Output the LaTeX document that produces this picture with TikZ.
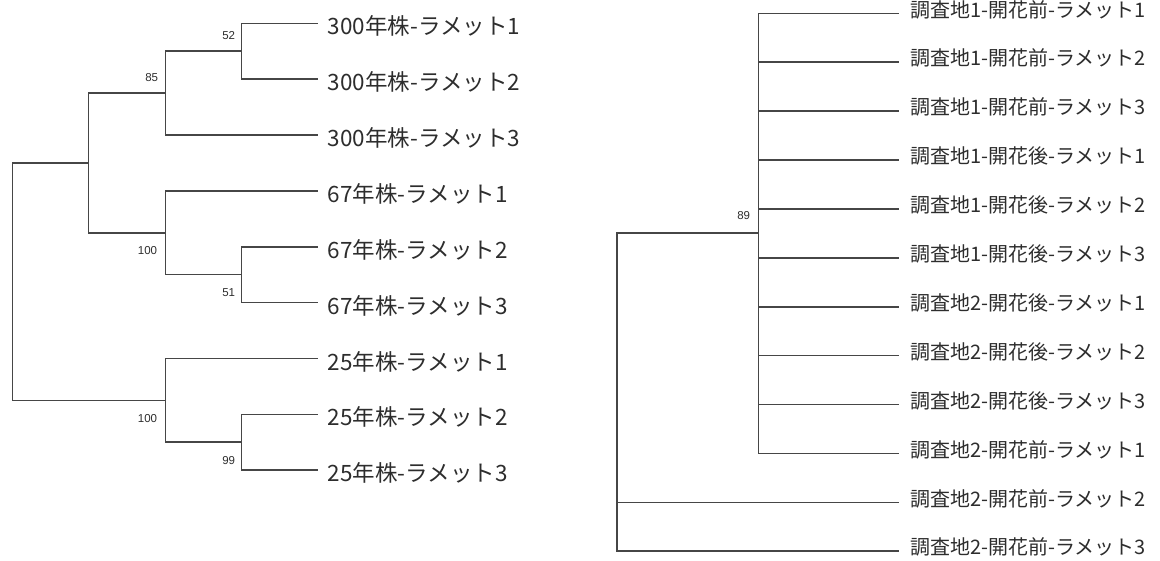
\documentclass[tikz,border=0pt]{standalone}
\usepackage{fontspec}
\usepackage{tikz}
\usetikzlibrary{calc}
\usetikzlibrary{positioning}
\newfontfamily\jpfont{Noto Sans CJK JP}
\newfontfamily\numfont{Liberation Sans}
\definecolor{linegray}{RGB}{70, 70, 70}
\definecolor{inkgray}{RGB}{45, 45, 45}

\tikzset{
  edge/.style={draw=linegray, line width=1.6pt, line cap=rect},
  leafbig/.style={anchor=west, inner sep=0pt, xshift=11pt, yshift=-3pt, text=inkgray,
                  font=\jpfont\fontsize{22.5}{24}\selectfont},
  leafsmall/.style={anchor=west, inner sep=0pt, xshift=12pt, text=inkgray,
                  text height=0.82em, text depth=0.08em,
                  font=\jpfont\fontsize{20}{22}\selectfont},
  boot/.style={anchor=east, inner sep=0pt, text=inkgray, font=\numfont\fontsize{11.5}{12}\selectfont}
}

\begin{document}
\begin{tikzpicture}[x=1pt, y=-1pt]
    \useasboundingbox (0,0) rectangle (1160,560);

    % left tree: leaf tips
    \coordinate (a1) at (316.7,  23.3);
    \coordinate (a2) at (316.7,  79.2);
    \coordinate (a3) at (316.7, 135.0);
    \coordinate (a4) at (316.7, 190.9);
    \coordinate (a5) at (316.7, 246.7);
    \coordinate (a6) at (316.7, 302.6);
    \coordinate (a7) at (316.7, 358.4);
    \coordinate (a8) at (316.7, 414.3);
    \coordinate (a9) at (316.7, 470.1);

    % left tree: inner nodes
    \coordinate (n52)   at (241.3,  51.2);
    \coordinate (n85)   at (165.3,  93.1);
    \coordinate (n51)   at (241.3, 274.6);
    \coordinate (n100a) at (165.3, 232.7);
    \coordinate (nsub)  at ( 88.3, 162.9);
    \coordinate (n99)   at (241.3, 442.2);
    \coordinate (n100b) at (165.3, 400.3);
    \coordinate (nroot) at ( 12.3, 281.6);

    \draw[edge] (n52) |- (a1)  (n52) |- (a2);
    \draw[edge] (n85) |- (n52) (n85) |- (a3);
    \draw[edge] (n51) |- (a5)  (n51) |- (a6);
    \draw[edge] (n100a) |- (a4) (n100a) |- (n51);
    \draw[edge] (nsub) |- (n85) (nsub) |- (n100a);
    \draw[edge] (n99) |- (a8)  (n99) |- (a9);
    \draw[edge] (n100b) |- (a7) (n100b) |- (n99);
    \draw[edge] (nroot) |- (nsub) (nroot) |- (n100b);

    \node[leafbig] (la1) at (a1) {300年株-ラメット1};
    \node[leafbig] (la2) at (a2) {300年株-ラメット2};
    \node[leafbig] (la3) at (a3) {300年株-ラメット3};
    \node[leafbig] (la4) at (a4) {67年株-ラメット1};
    \node[leafbig] (la5) at (a5) {67年株-ラメット2};
    \node[leafbig] (la6) at (a6) {67年株-ラメット3};
    \node[leafbig] (la7) at (a7) {25年株-ラメット1};
    \node[leafbig] (la8) at (a8) {25年株-ラメット2};
    \node[leafbig] (la9) at (a9) {25年株-ラメット3};

    \node[boot] (b52)   at ($(n52)  +(-6,-16)$) {52};
    \node[boot] (b85)   at ($(n85)  +(-7,-16)$) {85};
    \node[boot] (b100a) at ($(n100a)+(-8, 18)$) {100};
    \node[boot] (b51)   at ($(n51)  +(-6, 18)$) {51};
    \node[boot] (b100b) at ($(n100b)+(-8, 18)$) {100};
    \node[boot] (b99)   at ($(n99)  +(-6, 18)$) {99};

    % right tree: leaf tips
    \coordinate (r1)  at (898.0,  13.3);
    \coordinate (r2)  at (898.0,  62.2);
    \coordinate (r3)  at (898.0, 111.1);
    \coordinate (r4)  at (898.0, 160.0);
    \coordinate (r5)  at (898.0, 208.9);
    \coordinate (r6)  at (898.0, 257.8);
    \coordinate (r7)  at (898.0, 306.7);
    \coordinate (r8)  at (898.0, 355.6);
    \coordinate (r9)  at (898.0, 404.5);
    \coordinate (r10) at (898.0, 453.4);
    \coordinate (r11) at (898.0, 502.3);
    \coordinate (r12) at (898.0, 551.2);

    \coordinate (n89)   at (758.3, 233.0);
    \coordinate (mroot) at (616.7, 392.0);

    \draw[edge] (n89) |- (r1) (n89) |- (r10);
    \draw[edge] (r2 -| n89) -- (r2);
    \draw[edge] (r3 -| n89) -- (r3);
    \draw[edge] (r4 -| n89) -- (r4);
    \draw[edge] (r5 -| n89) -- (r5);
    \draw[edge] (r6 -| n89) -- (r6);
    \draw[edge] (r7 -| n89) -- (r7);
    \draw[edge] (r8 -| n89) -- (r8);
    \draw[edge] (r9 -| n89) -- (r9);
    \draw[edge] (mroot) |- (n89) (mroot) |- (r11) (mroot) |- (r12);

    \node[leafsmall] (lr1)  at (r1)  {調査地1-開花前-ラメット1};
    \node[leafsmall] (lr2)  at (r2)  {調査地1-開花前-ラメット2};
    \node[leafsmall] (lr3)  at (r3)  {調査地1-開花前-ラメット3};
    \node[leafsmall] (lr4)  at (r4)  {調査地1-開花後-ラメット1};
    \node[leafsmall] (lr5)  at (r5)  {調査地1-開花後-ラメット2};
    \node[leafsmall] (lr6)  at (r6)  {調査地1-開花後-ラメット3};
    \node[leafsmall] (lr7)  at (r7)  {調査地2-開花後-ラメット1};
    \node[leafsmall] (lr8)  at (r8)  {調査地2-開花後-ラメット2};
    \node[leafsmall] (lr9)  at (r9)  {調査地2-開花後-ラメット3};
    \node[leafsmall] (lr10) at (r10) {調査地2-開花前-ラメット1};
    \node[leafsmall] (lr11) at (r11) {調査地2-開花前-ラメット2};
    \node[leafsmall] (lr12) at (r12) {調査地2-開花前-ラメット3};

    \node[boot] (b89) at ($(n89)+(-8,-17)$) {89};
\end{tikzpicture}
\end{document}
